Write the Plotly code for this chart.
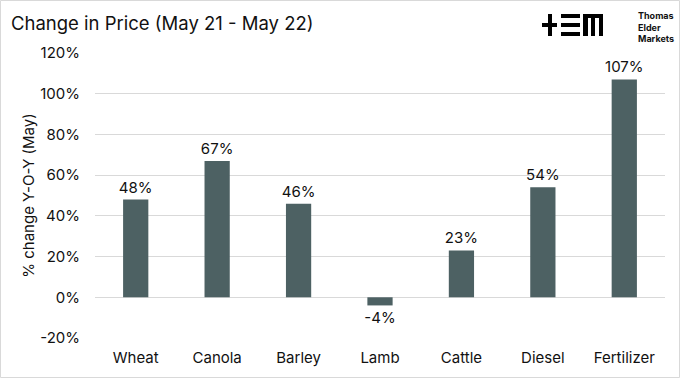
import plotly.graph_objects as go

categories = ["Wheat", "Canola", "Barley", "Lamb", "Cattle", "Diesel", "Fertilizer"]
values = [48, 67, 46, -4, 23, 54, 107]
labels = ["48%", "67%", "46%", "-4%", "23%", "54%", "107%"]
tick_vals = [-20, 0, 20, 40, 60, 80, 100, 120]
tick_text = ["-20%", "0%", "20%", "40%", "60%", "80%", "100%", "120%"]

W, H = 680, 378
ML, MR, MT, MB = 95, 15, 53, 40
PW, PH = W - ML - MR, H - MT - MB

def px(x):
    return (x - ML) / PW

def py(y):
    return (H - MB - y) / PH

FONT = "Inter"
BAR = "#4d6163"

fig = go.Figure(go.Bar(
    x=categories, y=values, text=labels, textposition="outside",
    constraintext="none",
    textfont=dict(size=15, color="#111111", family=FONT),
    marker=dict(color=BAR, line=dict(width=0)), width=0.31, cliponaxis=False,
))

shapes = []
def rect(x0, y0, x1, y1, color="#000000"):
    shapes.append(dict(type="rect", xref="paper", yref="paper",
                       x0=px(x0), x1=px(x1), y0=py(y1), y1=py(y0),
                       fillcolor=color, line=dict(width=0), layer="above"))

# logo
rect(542, 23, 557, 27)
rect(548, 14, 552, 36)
rect(561, 14, 580, 18)
rect(561, 23, 580, 27)
rect(561, 32, 580, 36)
rect(583, 14, 603, 18)
rect(583, 14, 588, 36)
rect(591, 14, 595, 36)
rect(599, 14, 603, 36)

# border
shapes.append(dict(type="rect", xref="paper", yref="paper",
                   x0=px(0.5), x1=px(679.5), y0=py(377.5), y1=py(0.5),
                   line=dict(color="#d9d9d9", width=1), fillcolor="rgba(0,0,0,0)"))

annotations = [
    dict(text="Change in Price (May 21 - May 22)", xref="paper", yref="paper",
         x=px(9), y=py(23), xanchor="left", yanchor="middle", showarrow=False,
         font=dict(size=18.5, color="#111111", family=FONT)),
    dict(text="<b>Thomas<br>Elder<br>Markets</b>", xref="paper", yref="paper",
         x=px(636), y=py(27), xanchor="left", yanchor="middle", align="left", showarrow=False,
         font=dict(size=9, color="#111111", family=FONT)),
]

fig.update_layout(
    width=W, height=H, margin=dict(l=ML, r=MR, t=MT, b=MB),
    paper_bgcolor="white", plot_bgcolor="white",
    showlegend=False, shapes=shapes, annotations=annotations,
    font=dict(family=FONT, size=15, color="#111111"),
    xaxis=dict(showgrid=False, showline=False, ticks="", tickfont=dict(size=15),
               ticklabelstandoff=9),
    yaxis=dict(range=[-20, 120], tickvals=tick_vals, ticktext=tick_text,
               showgrid=True, gridcolor="#d9d9d9", gridwidth=1, zeroline=False,
               ticks="", ticklen=0, tickfont=dict(size=15), ticklabelstandoff=14,
               title=dict(text="% change Y-O-Y (May)", font=dict(size=15), standoff=1)),
)

fig.write_html("out.html", config={"displayModeBar": False},
               post_script="document.body.style.margin='0';document.body.style.padding='0';")
